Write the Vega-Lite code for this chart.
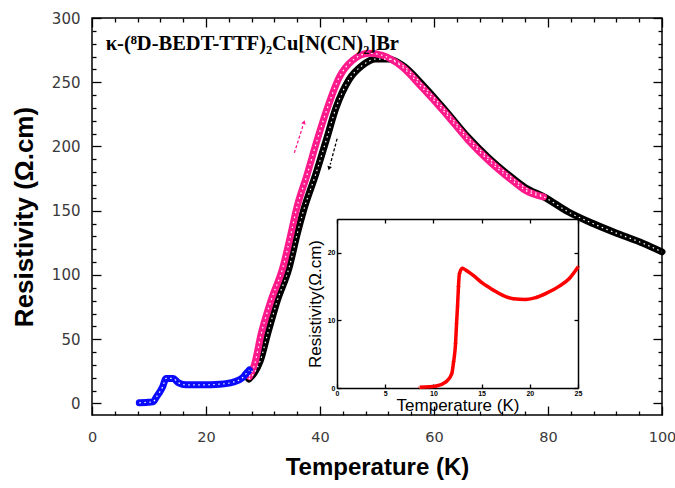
{
  "$schema": "https://vega.github.io/schema/vega-lite/v6.json",
  "width": 570,
  "height": 397,
  "autosize": "none",
  "padding": {"left": 92, "top": 18, "right": 13, "bottom": 73},
  "background": "white",
  "config": {
    "view": {"stroke": "black", "strokeWidth": 1.5},
    "axis": {"grid": false, "domain": false, "tickColor": "black", "tickWidth": 1.3, "labelOverlap": false, "labelFlush": false}
  },
  "datasets": {
    "curves": [
      {"run": "cooling", "T": 27.5, "R": 19},
      {"run": "cooling", "T": 28.5, "R": 24},
      {"run": "cooling", "T": 29.5, "R": 33},
      {"run": "cooling", "T": 30.8, "R": 54},
      {"run": "cooling", "T": 32.5, "R": 80},
      {"run": "cooling", "T": 34.6, "R": 106},
      {"run": "cooling", "T": 36.0, "R": 132},
      {"run": "cooling", "T": 37.1, "R": 150},
      {"run": "cooling", "T": 39.3, "R": 179},
      {"run": "cooling", "T": 41.1, "R": 205},
      {"run": "cooling", "T": 42.8, "R": 230},
      {"run": "cooling", "T": 45.1, "R": 252},
      {"run": "cooling", "T": 47.4, "R": 263},
      {"run": "cooling", "T": 49.8, "R": 268},
      {"run": "cooling", "T": 52.0, "R": 268},
      {"run": "cooling", "T": 54.5, "R": 263},
      {"run": "cooling", "T": 58.0, "R": 248},
      {"run": "cooling", "T": 62.0, "R": 228},
      {"run": "cooling", "T": 66.0, "R": 207},
      {"run": "cooling", "T": 69.6, "R": 191},
      {"run": "cooling", "T": 73.6, "R": 176},
      {"run": "cooling", "T": 76.0, "R": 168},
      {"run": "cooling", "T": 79.2, "R": 161},
      {"run": "cooling", "T": 83.6, "R": 149},
      {"run": "cooling", "T": 87.9, "R": 140},
      {"run": "cooling", "T": 92.3, "R": 132},
      {"run": "cooling", "T": 96.7, "R": 124.6},
      {"run": "cooling", "T": 100.0, "R": 118},
      {"run": "warming", "T": 27.6, "R": 21},
      {"run": "warming", "T": 28.5, "R": 30},
      {"run": "warming", "T": 29.7, "R": 54.5},
      {"run": "warming", "T": 31.4, "R": 80},
      {"run": "warming", "T": 33.5, "R": 106},
      {"run": "warming", "T": 34.9, "R": 132},
      {"run": "warming", "T": 35.8, "R": 150},
      {"run": "warming", "T": 37.8, "R": 179},
      {"run": "warming", "T": 39.5, "R": 205},
      {"run": "warming", "T": 41.3, "R": 230},
      {"run": "warming", "T": 43.4, "R": 254},
      {"run": "warming", "T": 45.7, "R": 267},
      {"run": "warming", "T": 48.6, "R": 272.5},
      {"run": "warming", "T": 50.9, "R": 271},
      {"run": "warming", "T": 54.4, "R": 262},
      {"run": "warming", "T": 57.9, "R": 246},
      {"run": "warming", "T": 62.0, "R": 226},
      {"run": "warming", "T": 66.0, "R": 205},
      {"run": "warming", "T": 69.6, "R": 189},
      {"run": "warming", "T": 73.6, "R": 174},
      {"run": "warming", "T": 76.0, "R": 166},
      {"run": "warming", "T": 79.2, "R": 160.7},
      {"run": "low", "T": 8.3, "R": 0.5},
      {"run": "low", "T": 9.5, "R": 0.8},
      {"run": "low", "T": 10.7, "R": 1.2},
      {"run": "low", "T": 11.3, "R": 5},
      {"run": "low", "T": 11.9, "R": 9},
      {"run": "low", "T": 12.4, "R": 13},
      {"run": "low", "T": 13.0, "R": 19.5},
      {"run": "low", "T": 14.2, "R": 19.5},
      {"run": "low", "T": 15.2, "R": 16},
      {"run": "low", "T": 16.5, "R": 14.5},
      {"run": "low", "T": 19.4, "R": 14.5},
      {"run": "low", "T": 22.4, "R": 15},
      {"run": "low", "T": 24.7, "R": 16.5},
      {"run": "low", "T": 26.4, "R": 20},
      {"run": "low", "T": 27.0, "R": 23},
      {"run": "low", "T": 27.6, "R": 26}
    ],
    "insetCurve": [
      {"T": 8.6, "R": 0.1},
      {"T": 10.3, "R": 0.3},
      {"T": 11.3, "R": 0.9},
      {"T": 11.9, "R": 2.1},
      {"T": 12.1, "R": 3.9},
      {"T": 12.3, "R": 6.6},
      {"T": 12.4, "R": 9.5},
      {"T": 12.5, "R": 12},
      {"T": 12.6, "R": 15},
      {"T": 12.7, "R": 16.9},
      {"T": 13.0, "R": 17.7},
      {"T": 13.4, "R": 17.4},
      {"T": 14.1, "R": 16.7},
      {"T": 15.1, "R": 15.5},
      {"T": 16.2, "R": 14.5},
      {"T": 17.2, "R": 13.7},
      {"T": 18.3, "R": 13.2},
      {"T": 19.6, "R": 13.1},
      {"T": 20.7, "R": 13.4},
      {"T": 21.7, "R": 14.0},
      {"T": 23.1, "R": 15.1},
      {"T": 24.1, "R": 16.2},
      {"T": 25.0, "R": 17.9}
    ]
  },
  "layer": [
    {
      "layer": [
        {
          "data": {"name": "curves"},
          "mark": {"type": "line", "strokeWidth": 7, "interpolate": "monotone", "strokeCap": "round"},
          "encoding": {
            "x": {
              "field": "T", "type": "quantitative",
              "scale": {"domain": [0, 100], "nice": false},
              "axis": {
                "orient": "bottom",
                "values": [0, 4, 8, 12, 16, 20, 24, 28, 32, 36, 40, 44, 48, 52, 56, 60, 64, 68, 72, 76, 80, 84, 88, 92, 96, 100],
                "labelExpr": "datum.value % 20 === 0 ? datum.label : ''",
                "tickSize": {"condition": {"test": "datum.value % 20 === 0", "value": -9}, "value": -4},
                "labelFont": "DejaVu Sans", "labelFontSize": 14.5, "labelColor": "#3a3a3a", "labelPadding": 24,
                "title": "Temperature (K)",
                "titleFont": "Liberation Sans Narrow, Liberation Sans", "titleFontSize": 24, "titleFontWeight": "bold", "titleColor": "black", "titlePadding": 7
              }
            },
            "y": {
              "field": "R", "type": "quantitative",
              "scale": {"domain": [-9, 300], "nice": false},
              "axis": {
                "orient": "left",
                "values": [0, 10, 20, 30, 40, 50, 60, 70, 80, 90, 100, 110, 120, 130, 140, 150, 160, 170, 180, 190, 200, 210, 220, 230, 240, 250, 260, 270, 280, 290, 300],
                "labelExpr": "datum.value % 50 === 0 ? datum.label : ''",
                "tickSize": {"condition": {"test": "datum.value % 50 === 0", "value": -9}, "value": -4},
                "labelFont": "DejaVu Sans", "labelFontSize": 15, "labelColor": "#3a3a3a", "labelPadding": 21,
                "title": "Resistivity (Ω.cm)",
                "titleFont": "Liberation Sans Narrow, Liberation Sans", "titleFontSize": 26, "titleFontWeight": "bold", "titleColor": "black", "titlePadding": 14
              }
            },
            "color": {
              "field": "run", "type": "nominal", "legend": null,
              "scale": {"domain": ["cooling", "warming", "low"], "range": ["#000000", "#ff1a8c", "#0a0aff"]}
            }
          }
        },
        {
          "data": {"name": "curves"},
          "mark": {"type": "line", "strokeWidth": 1.2, "color": "white", "strokeDash": [1.5, 3.5], "interpolate": "monotone"},
          "encoding": {
            "x": {"field": "T", "type": "quantitative", "axis": null},
            "y": {"field": "R", "type": "quantitative", "axis": null},
            "detail": {"field": "run", "type": "nominal"}
          }
        },
        {
          "data": {"name": "curves"},
          "mark": {"type": "point", "opacity": 0},
          "encoding": {
            "x": {
              "field": "T", "type": "quantitative",
              "axis": {
                "orient": "top", "labels": false, "title": null,
                "values": [0, 4, 8, 12, 16, 20, 24, 28, 32, 36, 40, 44, 48, 52, 56, 60, 64, 68, 72, 76, 80, 84, 88, 92, 96, 100],
                "tickSize": {"condition": {"test": "datum.value % 20 === 0", "value": -9}, "value": -4}
              }
            },
            "y": {
              "field": "R", "type": "quantitative",
              "axis": {
                "orient": "right", "labels": false, "title": null,
                "values": [0, 10, 20, 30, 40, 50, 60, 70, 80, 90, 100, 110, 120, 130, 140, 150, 160, 170, 180, 190, 200, 210, 220, 230, 240, 250, 260, 270, 280, 290, 300],
                "tickSize": {"condition": {"test": "datum.value % 50 === 0", "value": -9}, "value": -4}
              }
            }
          }
        },
        {
          "data": {"values": [{}]},
          "mark": {"type": "rule", "color": "#ff1a8c", "strokeWidth": 1.3, "strokeDash": [3, 2]},
          "encoding": {
            "x": {"datum": 35.5, "type": "quantitative", "axis": null},
            "y": {"datum": 195, "type": "quantitative", "axis": null},
            "x2": {"datum": 37.0},
            "y2": {"datum": 216}
          }
        },
        {
          "data": {"values": [{}]},
          "mark": {"type": "point", "shape": "triangle-up", "filled": true, "color": "#ff1a8c", "size": 22, "angle": 18, "opacity": 1},
          "encoding": {
            "x": {"datum": 37.2, "type": "quantitative", "axis": null},
            "y": {"datum": 219, "type": "quantitative", "axis": null}
          }
        },
        {
          "data": {"values": [{}]},
          "mark": {"type": "rule", "color": "black", "strokeWidth": 1.3, "strokeDash": [3, 2]},
          "encoding": {
            "x": {"datum": 43.0, "type": "quantitative", "axis": null},
            "y": {"datum": 206, "type": "quantitative", "axis": null},
            "x2": {"datum": 41.8},
            "y2": {"datum": 186}
          }
        },
        {
          "data": {"values": [{}]},
          "mark": {"type": "point", "shape": "triangle-up", "filled": true, "color": "black", "size": 22, "angle": 196, "opacity": 1},
          "encoding": {
            "x": {"datum": 41.6, "type": "quantitative", "axis": null},
            "y": {"datum": 183, "type": "quantitative", "axis": null}
          }
        },
        {
          "data": {"values": [{}]},
          "mark": {"type": "text", "text": "κ-(⁸D-BEDT-TTF)₂Cu[N(CN)₂]Br", "font": "Liberation Serif", "fontSize": 20.5, "fontWeight": "bold", "align": "left", "baseline": "alphabetic", "color": "black"},
          "encoding": {
            "x": {"datum": 2.4, "type": "quantitative", "axis": null},
            "y": {"datum": 275, "type": "quantitative", "axis": null}
          }
        }
      ],
      "resolve": {"axis": {"x": "independent", "y": "independent"}}
    },
    {
      "layer": [
        {
          "data": {"name": "insetCurve"},
          "mark": {"type": "line", "color": "#ff0000", "strokeWidth": 3.5, "interpolate": "monotone"},
          "encoding": {
            "x": {
              "field": "T", "type": "quantitative",
              "scale": {"domain": [0, 25], "range": [245, 486], "nice": false},
              "axis": {
                "orient": "bottom", "offset": -27, "domain": true, "domainColor": "black", "domainWidth": 1.5,
                "values": [0, 5, 10, 15, 20, 25], "tickSize": -4,
                "labelFont": "Liberation Sans", "labelFontSize": 7, "labelFontWeight": "bold", "labelColor": "black", "labelPadding": 5,
                "title": "Temperature (K)", "titleFont": "Liberation Sans", "titleFontSize": 17, "titleFontWeight": "normal", "titleColor": "black", "titlePadding": 1
              }
            },
            "y": {
              "field": "R", "type": "quantitative",
              "scale": {"domain": [0, 25], "range": [370, 201], "nice": false},
              "axis": {
                "orient": "left", "offset": -245, "domain": true, "domainColor": "black", "domainWidth": 1.5,
                "values": [0, 10, 20], "tickSize": -4,
                "labelFont": "Liberation Sans", "labelFontSize": 7, "labelFontWeight": "bold", "labelColor": "black", "labelPadding": 6,
                "title": "Resistivity(Ω.cm)", "titleFont": "Liberation Sans", "titleFontSize": 17, "titleFontWeight": "normal", "titleColor": "black", "titlePadding": 3
              }
            }
          }
        },
        {
          "data": {"name": "insetCurve"},
          "mark": {"type": "point", "shape": "diamond", "filled": false, "color": "#ff0000", "size": 10, "strokeWidth": 1},
          "encoding": {
            "x": {"field": "T", "type": "quantitative", "axis": null},
            "y": {"field": "R", "type": "quantitative", "axis": null}
          }
        },
        {
          "data": {"name": "insetCurve"},
          "mark": {"type": "point", "opacity": 0},
          "encoding": {
            "x": {
              "field": "T", "type": "quantitative",
              "axis": {"orient": "top", "offset": -201, "domain": true, "domainColor": "black", "domainWidth": 1.5, "labels": false, "title": null, "values": [0, 5, 10, 15, 20, 25], "tickSize": -4}
            },
            "y": {
              "field": "R", "type": "quantitative",
              "axis": {"orient": "right", "offset": -84, "domain": true, "domainColor": "black", "domainWidth": 1.5, "labels": false, "title": null, "values": [0, 10, 20], "tickSize": -4}
            }
          }
        }
      ],
      "resolve": {"axis": {"x": "independent", "y": "independent"}}
    }
  ],
  "resolve": {"scale": {"x": "independent", "y": "independent"}, "axis": {"x": "independent", "y": "independent"}}
}
